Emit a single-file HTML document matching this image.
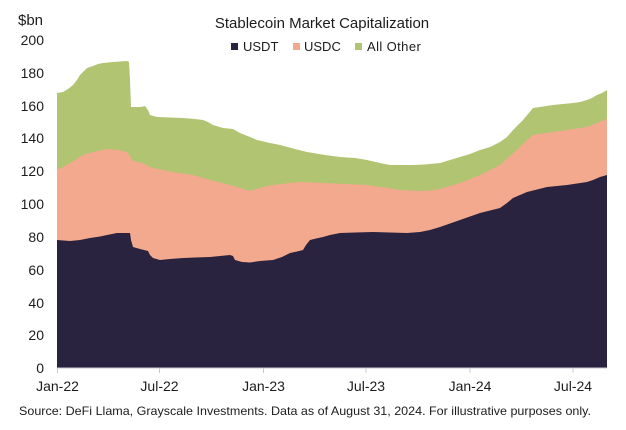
<!DOCTYPE html>
<html><head><meta charset="utf-8"><style>
html,body{margin:0;padding:0;background:#fff;}
body{width:626px;height:425px;overflow:hidden;}
svg text{font-family:"Liberation Sans",Arial,sans-serif;fill:#1c1c1c;}
</style></head><body>
<svg width="626" height="425" viewBox="0 0 626 425" xmlns="http://www.w3.org/2000/svg">
<rect width="626" height="425" fill="#fff"/>
<text x="322" y="28" font-size="15" text-anchor="middle">Stablecoin Market Capitalization</text>
<rect x="231" y="43" width="7" height="7" fill="#29233f"/>
<text x="243" y="51" font-size="13">USDT</text>
<rect x="293" y="43" width="7" height="7" fill="#f3a98d"/>
<text x="304" y="51" font-size="13">USDC</text>
<rect x="355" y="43" width="7" height="7" fill="#b0c472"/>
<text x="367" y="51" font-size="13" letter-spacing="0.4">All Other</text>
<text x="18" y="25" font-size="15">$bn</text>
<g font-size="14" text-anchor="end">
<text x="44" y="45">200</text>
<text x="44" y="78">180</text>
<text x="44" y="111">160</text>
<text x="44" y="143">140</text>
<text x="44" y="176">120</text>
<text x="44" y="209">100</text>
<text x="44" y="242">80</text>
<text x="44" y="275">60</text>
<text x="44" y="308">40</text>
<text x="44" y="340">20</text>
<text x="44" y="373">0</text>
</g>
<polygon fill="#b0c472" points="57,367.5 57,93 63,92 68,89 73,85 77,80 80,75 84,71 87,68 90,67 93,66 98,64 103,63 108,62.5 113,62 120,61.5 127,61 129,62 130,80 131,107 137,107 141,107 145,106 148,110 150,115 157,117 170,117.5 183,118 195,119 203,120 208,122 213,125 223,128 233,129 240,133 250,137 257,140 270,143 280,145 295,149 307,152 325,155 340,157 355,158 367,160 380,163 390,165 400,165 413,165 425,164.5 440,163 450,160 460,157 470,154 480,150 490,147 500,142 507,137 513,130 518,125 523,120 528,114 533,108 540,107 553,105 563,104 573,103 580,102 587,100 592,98 597,95 602,93 607,90 607,367.5"/>
<polygon fill="#f3a98d" points="57,367.5 57,170 63,167 70,163 77,159 83,155 90,153 97,151 108,149 118,150 127,152 130,156 132,160 137,162 143,163 148,166 153,168 163,170 173,172 183,173.5 193,175 203,178 210,180 220,182.5 230,185 240,188 250,191 253,190 263,187 273,185 285,183.5 300,182 312,182.5 323,183 345,184 367,185 385,187.5 400,190 420,191 430,190.5 440,189 450,186 460,183 470,179 480,175 490,170 500,165 510,156 520,147 527,140 533,135 543,133.5 553,132 563,130.5 573,129 580,128 587,127 597,123 607,119 607,367.5"/>
<polygon fill="#29233f" points="57,367.5 57,240 70,241 80,240 90,238 100,236.5 107,235 117,233 130,233 131,240 133,247 140,249 148,251 150,255 153,258 160,260 170,259 183,258 195,257.5 210,257 220,256 230,255 233,256 235,260 242,262 250,262.5 260,261 273,260 282,257 290,253 297,251.5 303,250 306,245 310,240 316,238.5 323,237 330,235 340,233 355,232.5 373,232 390,232.5 407,233 420,232 430,230 440,227 450,223.5 460,220 470,216.5 480,213 490,210.5 500,208 507,203 513,198 520,195 527,192 537,189.5 547,187 557,186 567,185 577,183.5 587,182 593,180 600,177 607,175 607,367.5"/>
<line x1="57" y1="368" x2="607" y2="368" stroke="#c9c9d2" stroke-width="1"/>
<g stroke="#c9c9d2" stroke-width="1">
<line x1="57.5" y1="368" x2="57.5" y2="373"/>
<line x1="159.5" y1="368" x2="159.5" y2="373"/>
<line x1="263.5" y1="368" x2="263.5" y2="373"/>
<line x1="366" y1="368" x2="366" y2="373"/>
<line x1="470" y1="368" x2="470" y2="373"/>
<line x1="573" y1="368" x2="573" y2="373"/>
</g>
<g font-size="14" text-anchor="middle">
<text x="57.5" y="391">Jan-22</text>
<text x="159.5" y="391">Jul-22</text>
<text x="263.5" y="391">Jan-23</text>
<text x="366" y="391">Jul-23</text>
<text x="470" y="391">Jan-24</text>
<text x="573" y="391">Jul-24</text>
</g>
<text x="19" y="415" font-size="12" textLength="572" lengthAdjust="spacingAndGlyphs">Source: DeFi Llama, Grayscale Investments. Data as of August 31, 2024. For illustrative purposes only.</text>
</svg>
</body></html>
